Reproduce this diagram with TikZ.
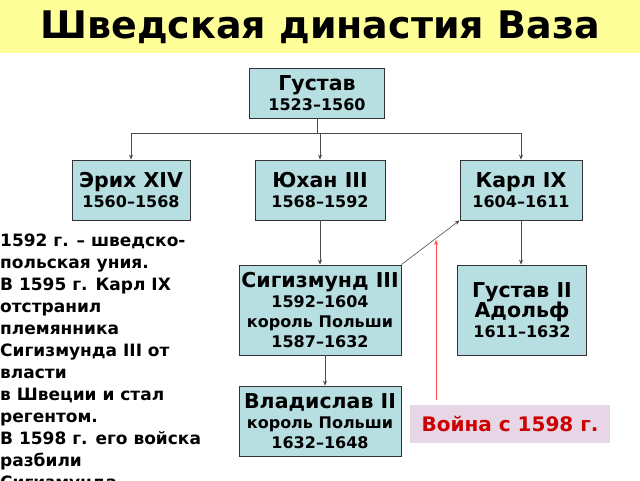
\documentclass[tikz,border=0pt]{standalone}
\usepackage{fontspec}
\setmainfont{DejaVu Sans}
\usetikzlibrary{calc,arrows.meta}
\definecolor{boxfill}{HTML}{B7DEE0}
\definecolor{titlefill}{HTML}{FFFF99}
\definecolor{warfill}{HTML}{E6D6E6}
\definecolor{warred}{HTML}{CC0000}
\tikzset{
  person/.style={draw=black!80, fill=boxfill, line width=0.8pt, align=center, inner sep=0pt,
    font=\bfseries\fontsize{16}{20}\selectfont},
  link/.style={draw=black!70, line width=0.6pt, -{Stealth[length=5pt,width=4pt]}}
}
\newcommand{\nm}[1]{{\fontsize{20.5}{23}\selectfont #1}}
\begin{document}
\begin{tikzpicture}[x=1pt,y=-1pt]
\useasboundingbox (0,0) rectangle (640,480);
\fill[titlefill] (0,0) rectangle (640,53);
\node (title) at (320,27) {\bfseries\fontsize{38}{40}\selectfont Шведская династия Ваза};
% persons
\node[person, minimum width=135pt, minimum height=50pt] (gustav) at (317,93) {\nm{Густав}\\1523–1560};
\node[person, minimum width=118pt, minimum height=60pt] (erik) at (131,190) {\nm{Эрих XIV}\\1560–1568};
\node[person, minimum width=130pt, minimum height=60pt] (johan) at (320,190) {\nm{Юхан III}\\1568–1592};
\node[person, minimum width=122pt, minimum height=60pt] (karl) at (521,190) {\nm{Карл IX}\\1604–1611};
\node[person, minimum width=162pt, minimum height=90pt] (sigis) at (320,310) {\nm{Сигизмунд III}\\1592–1604\\король Польши\\1587–1632};
\node[person, minimum width=129pt, minimum height=90pt] (gustav2) at (522,310) {\nm{Густав II}\\\nm{Адольф}\\1611–1632};
\node[person, minimum width=162pt, minimum height=70pt] (vlad) at (320,421) {\nm{Владислав II}\\король Польши\\1632–1648};
% tree
\coordinate (fork) at (317,133);
\draw[draw=black!70, line width=0.6pt] (gustav.south) -- (fork);
\draw[draw=black!70, line width=0.6pt] (erik.north |- fork) -- (karl.north |- fork);
\draw[link] (erik.north |- fork) -- (erik.north);
\draw[link] (johan.north |- fork) -- (johan.north);
\draw[link] (karl.north |- fork) -- (karl.north);
\draw[link] (johan.south) -- (sigis.north);
\draw[link] (karl.south) -- (karl.south |- gustav2.north);
\draw[link] ($(sigis.south)+(5,0)$) -- ($(vlad.north)+(5,0)$);
\draw[link] (sigis.north east) -- (karl.south west);
% war
\node[fill=warfill, text=warred, font=\bfseries\fontsize{20}{23}\selectfont, minimum width=200pt, minimum height=38pt, inner sep=0pt] (war) at (510,424) {Война с 1598 г.};
\coordinate (warstart) at (436,400);
\draw[-{Stealth[length=5pt,width=4pt]}, draw=red!70, line width=0.8pt] (warstart) -- (436,240);
% notes
\node[anchor=north west, align=left, inner sep=0pt, font=\bfseries\fontsize{17}{22}\selectfont] (notes) at (0,234)
{1592 г. – шведско-\\польская уния.\\В 1595 г. Карл IX\\отстранил\\племянника\\Сигизмунда III от\\власти\\в Швеции и стал\\регентом.\\В 1598 г. его войска\\разбили\\Сигизмунда.};
\end{tikzpicture}
\end{document}
